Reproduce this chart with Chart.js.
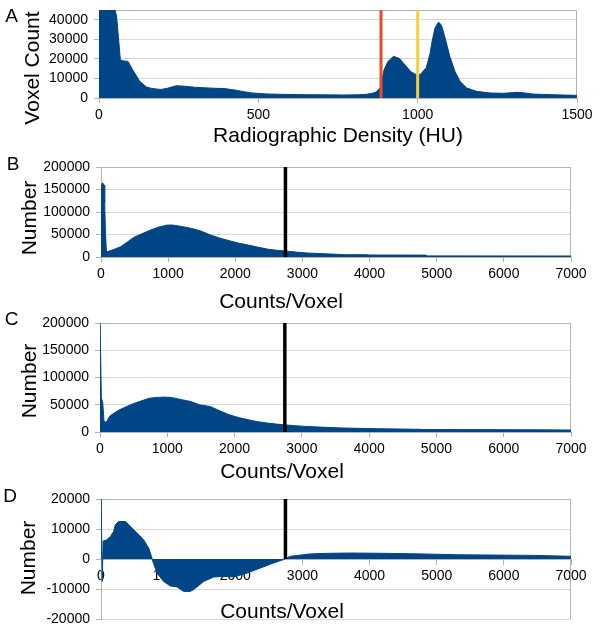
<!DOCTYPE html>
<html><head><meta charset="utf-8">
<script src="https://cdn.jsdelivr.net/npm/chart.js@4.4.1/dist/chart.umd.min.js"></script>
<style>
html,body{margin:0;padding:0;background:#fff;overflow:hidden;}
body{width:600px;height:633px;position:relative;font-family:"Liberation Sans",Arial,sans-serif;}
canvas{position:absolute;left:0;}
.t{position:absolute;transform:translate(-50%,-50%);white-space:nowrap;line-height:1;color:#000;}
.ty{position:absolute;transform:translate(-50%,-50%) rotate(-90deg);white-space:nowrap;line-height:1;color:#000;}
</style></head><body>
<canvas id="cA" width="600" height="150" style="top:0px"></canvas>
<canvas id="cB" width="600" height="160" style="top:150px"></canvas>
<canvas id="cC" width="600" height="160" style="top:310px"></canvas>
<canvas id="cD" width="600" height="163" style="top:470px"></canvas>

<div class="t" style="left:11.5px;top:14.5px;font-size:19px">A</div>
<div class="t" style="left:13px;top:162.5px;font-size:19px">B</div>
<div class="t" style="left:11.5px;top:318px;font-size:19px">C</div>
<div class="t" style="left:10px;top:495px;font-size:19px">D</div>

<div class="ty" style="left:31px;top:68px;font-size:21px">Voxel Count</div>
<div class="ty" style="left:27.5px;top:218px;font-size:21px">Number</div>
<div class="ty" style="left:27.5px;top:381px;font-size:21px">Number</div>
<div class="ty" style="left:27px;top:558px;font-size:21px">Number</div>

<div class="t" style="left:338px;top:134px;font-size:21px">Radiographic Density (HU)</div>
<div class="t" style="left:281px;top:300px;font-size:21px">Counts/Voxel</div>
<div class="t" style="left:282px;top:470px;font-size:21px">Counts/Voxel</div>
<div class="t" style="left:282px;top:610px;font-size:21px">Counts/Voxel</div>

<script>
// ---------- Panel A: CT histogram ----------
const huA = [0, 10, 20, 30, 40, 50, 55, 60, 67, 75, 91, 107, 128, 149, 165, 180, 195, 215, 243, 270, 300, 323, 360, 395, 431, 455, 479, 527, 590, 648, 700, 768, 810, 840, 860, 870, 882, 886, 894, 906, 924, 943, 961, 979, 997, 1009, 1027, 1039, 1044, 1054, 1063, 1067, 1075, 1085, 1101, 1117, 1133, 1154, 1185, 1227, 1270, 1311, 1330, 1362, 1420, 1500];
const voxelCountA = [45000, 45000, 45000, 45000, 45000, 45000, 42000, 33000, 19500, 19000, 18700, 14100, 8500, 5600, 4900, 4600, 4400, 5000, 6300, 6000, 5500, 5300, 5000, 4800, 3950, 3200, 2600, 2050, 1800, 1700, 1600, 1550, 1600, 1900, 2500, 3100, 5150, 7000, 14200, 18500, 21300, 20200, 16800, 13400, 11800, 12200, 15500, 22800, 28000, 35500, 38300, 38700, 37000, 31400, 21200, 13600, 8500, 5100, 3400, 2550, 2400, 2900, 2700, 2000, 1700, 1350];
const redLineHU = 885;
const yellowLineHU = 1000;
const xTicksA = [0, 500, 1000, 1500];
const yTicksA = [0, 10000, 20000, 30000, 40000];

// ---------- Panel B ----------
const countsB = [0, 5, 15, 30, 45, 55, 65, 80, 100, 150, 200, 287, 400, 485, 600, 734, 850, 982, 1069, 1229, 1353, 1478, 1638, 1780, 1922, 2060, 2206, 2350, 2491, 2620, 2747, 2900, 3059, 3350, 3628, 3969, 4000, 4460, 4830, 4860, 5500, 6200, 7000];
const numberB = [123000, 150000, 164000, 164000, 160000, 120000, 60000, 13400, 12000, 14500, 17500, 22400, 34000, 43400, 51000, 59700, 66000, 70900, 71000, 67100, 63400, 58200, 48500, 41500, 35800, 30500, 26100, 21500, 17200, 15000, 13400, 11000, 9000, 7000, 5200, 5000, 4500, 4300, 4200, 2500, 2400, 2300, 2200];

// ---------- Panel C ----------
const countsC = [0, 10, 20, 40, 60, 85, 100, 140, 200, 288, 400, 486, 600, 734, 850, 954, 1060, 1229, 1351, 1478, 1635, 1780, 1919, 2060, 2203, 2340, 2487, 2620, 2725, 2900, 3054, 3350, 3622, 3850, 4105, 4757, 4800, 5300, 5893, 6500, 7000];
const numberC = [210000, 210000, 62000, 55000, 19300, 18500, 19000, 28500, 34000, 40700, 47000, 51600, 56500, 62000, 63500, 64000, 63500, 58900, 55900, 49800, 46800, 39000, 31600, 26500, 22500, 19000, 16400, 14500, 13400, 11500, 10300, 8600, 7300, 6700, 6100, 4900, 4500, 4400, 4300, 4000, 3600];

// ---------- Panel D (difference) ----------
const countsD = [0, 12, 18, 28, 32, 80, 140, 188, 213, 262, 362, 437, 536, 635, 709, 759, 775, 834, 933, 1033, 1132, 1231, 1331, 1380, 1529, 1678, 1827, 1976, 2175, 2374, 2572, 2721, 2760, 2821, 3119, 3400, 3715, 4198, 4765, 5333, 5901, 6469, 7000];
const numberD = [25000, 25000, -7500, -7500, 6000, 6300, 7500, 9200, 11400, 12500, 12500, 10900, 8700, 6400, 3700, 300, -1000, -4700, -7500, -9000, -9300, -10800, -10800, -10200, -7500, -6000, -5800, -6000, -4700, -3000, -1300, -200, 300, 900, 1700, 1900, 2000, 1900, 1700, 1400, 1300, 1200, 900];

const thresholdCounts = 2747;
const xTicksCounts = [0, 1000, 2000, 3000, 4000, 5000, 6000, 7000];
const yTicksBC = [0, 50000, 100000, 150000, 200000];
const yTicksD = [-20000, -10000, 0, 10000, 20000];

// ---------- styles ----------
const BLUE = '#004586';
const FONT = '"Liberation Sans", Arial, sans-serif';
const GRID = '#d9d9d9';
const AXIS = '#b3b3b3';

const plotBorder = {
  id: 'plotBorder',
  beforeDatasetsDraw(chart) {
    const a = chart.chartArea, c = chart.ctx;
    c.save();
    c.strokeStyle = AXIS; c.lineWidth = 1;
    c.beginPath();
    c.moveTo(a.left, Math.round(a.top) + 0.5);
    c.lineTo(Math.round(a.right) - 0.5, Math.round(a.top) + 0.5);
    c.lineTo(Math.round(a.right) - 0.5, a.bottom);
    c.stroke();
    c.restore();
  }
};

function makePanel(id, canvasTop, canvasH, area, xMax, xTicks, yMin, yMax, yTicks, xs, ys, markers, xAtZero) {
  const datasets = markers.map(m => ({
    data: [{x: m.x, y: m.y0}, {x: m.x, y: m.y1}],
    borderColor: m.color, borderWidth: m.w, pointRadius: 0, fill: false, order: 0
  }));
  datasets.push({
    data: xs.map((x, i) => ({x: x, y: ys[i]})),
    borderColor: BLUE, backgroundColor: BLUE, borderWidth: 1,
    pointRadius: 0, fill: 'origin', tension: 0, order: 1
  });
  const below = canvasTop + canvasH - area.b;
  new Chart(document.getElementById(id), {
    type: 'line',
    data: {datasets},
    options: {
      responsive: false, animation: false, devicePixelRatio: 1,
      layout: {padding: {top: area.t - canvasTop, left: 0, right: 600 - area.r, bottom: xAtZero ? below : 0}},
      plugins: {legend: {display: false}, tooltip: {enabled: false}},
      scales: {
        x: {
          type: 'linear', min: 0, max: xMax,
          position: xAtZero ? {y: 0} : 'bottom',
          z: xAtZero ? 1 : 0,
          afterBuildTicks: s => { s.ticks = xTicks.map(v => ({value: v})); },
          afterFit: s => { s.height = xAtZero ? 0 : below; s.paddingLeft = 0; s.paddingRight = 0; },
          grid: {drawOnChartArea: false, drawTicks: true, tickLength: 5, tickColor: AXIS},
          border: {display: true, color: AXIS, width: 1},
          ticks: {font: {family: FONT, size: 14}, color: '#000', padding: 4, maxRotation: 0, autoSkip: false, callback: v => String(v)}
        },
        y: {
          type: 'linear', min: yMin, max: yMax,
          afterBuildTicks: s => { s.ticks = yTicks.map(v => ({value: v})); },
          afterFit: s => { s.width = area.l; s.paddingTop = 0; s.paddingBottom = 0; },
          grid: {color: GRID, drawTicks: true, tickLength: 5, tickColor: AXIS},
          border: {display: true, color: AXIS, width: 1},
          ticks: {font: {family: FONT, size: 14}, color: '#000', padding: 6, callback: v => String(v)}
        }
      }
    },
    plugins: [plotBorder]
  });
}

makePanel('cA', 0, 150, {l: 99, r: 577, t: 10, b: 98}, 1500, xTicksA, 0, 45000, yTicksA, huA, voxelCountA,
  [{x: redLineHU, y0: 0, y1: 45000, color: '#ec4a24', w: 3},
   {x: yellowLineHU, y0: 0, y1: 45000, color: '#f7d03a', w: 3}], false);

makePanel('cB', 150, 160, {l: 101, r: 571, t: 167, b: 257}, 7000, xTicksCounts, 0, 200000, yTicksBC, countsB, numberB,
  [{x: thresholdCounts, y0: 0, y1: 200000, color: '#000', w: 3.5}], false);

makePanel('cC', 310, 160, {l: 100, r: 571, t: 323, b: 432}, 7000, xTicksCounts, 0, 200000, yTicksBC, countsC, numberC,
  [{x: thresholdCounts, y0: 0, y1: 200000, color: '#000', w: 3.5}], false);

makePanel('cD', 470, 163, {l: 101, r: 571, t: 499, b: 619}, 7000, xTicksCounts, -20000, 20000, yTicksD, countsD, numberD,
  [{x: thresholdCounts, y0: 0, y1: 20000, color: '#000', w: 3.5}], true);
</script>
</body></html>
